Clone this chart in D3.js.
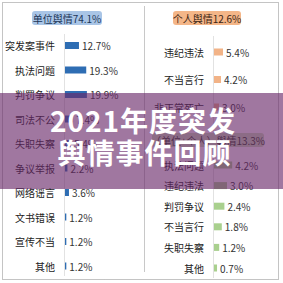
<!DOCTYPE html>
<html><head><meta charset="utf-8">
<script src="https://cdn.jsdelivr.net/npm/d3@7"></script>
<style>html,body{margin:0;padding:0;background:#fff;}svg{display:block;}</style>
</head><body>
<script>
// ---- data ----
const leftTitle = "单位舆情74.1%";
const leftCats = ["突发案事件","执法问题","判罚争议","司法不公","失职失察","争议举报","网络谣言","文书错误","宣传不当","其他"];
const leftVals = [12.7,19.3,19.9,7.4,5.4,2.2,3.6,1.2,1.2,1.2];
const rtTitle = "个人舆情12.6%";
const rtCats = ["违纪违法","不当言行","非正常死亡"];
const rtVals = [5.4,4.2,3.0];
const rbTitle = "（单位+个人）舆情13.3%";
const rbCats = ["执法问题","违纪违法","判罚争议","不当言行","失职失察","其他"];
const rbVals = [4.2,3.0,2.4,1.8,1.2,0.7];
const headline = ["2021年度突发","舆情事件回顾"];

const W=283,H=283;
const svg=d3.select("body").append("svg").attr("width",W).attr("height",H);
const font="'Noto Sans CJK SC','Noto Sans',sans-serif";

// frame
svg.append("rect").attr("x",2.5).attr("y",2.5).attr("width",276).attr("height",277)
  .attr("fill","none").attr("stroke","#888").attr("stroke-dasharray","1,1");
svg.append("line").attr("x1",144.5).attr("x2",144.5).attr("y1",6).attr("y2",272).attr("stroke","#c8c8c8");

function section(cats, vals, yRange, xScale, x0, color){
  const y=d3.scalePoint().domain(cats).range(yRange);
  const g=svg.append("g");
  g.selectAll(".lab").data(cats).join("text")
    .attr("x",x0-9).attr("y",d=>y(d)).attr("text-anchor","end").attr("dominant-baseline","central")
    .attr("font-family",font).attr("font-size",10).attr("fill","#222").text(d=>d);
  g.selectAll(".bar").data(vals).join("rect")
    .attr("x",x0+1).attr("y",(d,i)=>y(cats[i])-3.5).attr("height",7)
    .attr("width",d=>Math.max(1,xScale(d))).attr("fill",color);
  g.selectAll(".val").data(vals).join("text")
    .attr("x",d=>x0+1+Math.max(1,xScale(d))+3).attr("y",(d,i)=>y(cats[i])).attr("dominant-baseline","central")
    .attr("font-family",font).attr("font-size",10).attr("fill","#333").text(d=>d.toFixed(1)+"%");
}
function titleBox(text, cx, cy, w, fill, color){
  svg.append("rect").attr("x",cx-w/2).attr("y",cy-7).attr("width",w).attr("height",14).attr("rx",3)
    .attr("fill",fill);
  svg.append("text").attr("x",cx).attr("y",cy).attr("text-anchor","middle").attr("dominant-baseline","central")
    .attr("font-family",font).attr("font-size",10).attr("fill",color).text(text);
}

// axes lines
svg.append("line").attr("x1",64.5).attr("x2",64.5).attr("y1",34).attr("y2",276).attr("stroke","#e2e2e2");
svg.append("line").attr("x1",213.5).attr("x2",213.5).attr("y1",36).attr("y2",278).attr("stroke","#e2e2e2");

titleBox(leftTitle,67,18,70,"#a9c5e6","#1c3558");
section(leftCats,leftVals,[45.5,266],d3.scaleLinear().domain([0,20]).range([0,22]),64,"#2e6db3");
titleBox(rtTitle,207,18,68,"#f4b688","#3a2414");
section(rtCats,rtVals,[52,107],d3.scaleLinear().domain([0,5.4]).range([0,9]),213,"#f2b387");
titleBox(rbTitle,208,140,112,"#c9e1b8","#2a3a20");
section(rbCats,rbVals,[165,268],d3.scaleLinear().domain([0,3]).range([0,13]),213,"#a9d08e");

// overlay band
svg.append("rect").attr("x",0).attr("y",93).attr("width",W).attr("height",96)
  .attr("fill","rgb(104,40,104)").attr("fill-opacity",0.63);
svg.selectAll(".hl").data(headline).join("text")
  .attr("x",(d,i)=>i?144.5:143).attr("y",(d,i)=>i?164:132).attr("text-anchor","middle")
  .attr("font-family",font).attr("font-weight","bold").attr("font-size",28).attr("fill","#fff")
  .attr("letter-spacing",1).text(d=>d);
</script>
</body></html>
